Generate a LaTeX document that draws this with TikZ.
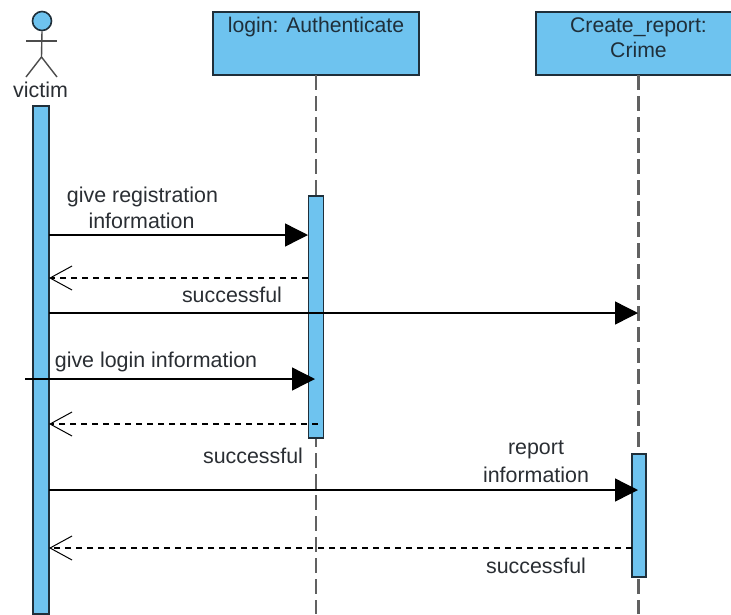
\documentclass[tikz,border=0pt]{standalone}
\usepackage{fontspec}
\setmainfont{Liberation Sans}
\usetikzlibrary{arrows.meta}
\definecolor{lifeblue}{HTML}{6EC3EF}
\definecolor{edgeblue}{HTML}{1F2F3A}
\definecolor{inktext}{HTML}{2A2E33}
\tikzset{
  x=1pt,y=-1pt,
  headbox/.style={draw=edgeblue,fill=lifeblue,line width=1.5pt,anchor=north west,inner sep=0pt,outer sep=0pt},
  activation/.style={draw=edgeblue,fill=lifeblue,line width=1.8pt,anchor=north west,inner sep=0pt,outer sep=0pt,minimum width=15pt},
  lifeline/.style={draw=black!62,line width=2.5pt,dash pattern=on 15pt off 6pt},
  callmsg/.style={draw=black,line width=1.4pt,-{Triangle[length=23pt,width=23pt]}},
  returnmsg/.style={draw=black,line width=1.2pt,dash pattern=on 6pt off 5pt,-{Straight Barb[length=22pt,width=24pt,line width=1pt]}},
  actorline/.style={draw=black!70,line width=1.4pt},
  msglabel/.style={font=\fontsize{21.4}{25}\selectfont,text=inktext,inner sep=0pt},
  titletext/.style={font=\fontsize{21.2}{25}\selectfont,text=edgeblue,inner sep=0pt}
}
\begin{document}
\begin{tikzpicture}
\path[use as bounding box] (0,0) rectangle (731,614);
\clip (0,0) rectangle (731,614);
\fill[white] (0,0) rectangle (731,614);
% head boxes
\node[headbox,minimum width=206pt,minimum height=63pt] (login) at (213,12) {};
\node[headbox,minimum width=205pt,minimum height=63pt] (report) at (536,12) {};
\node[titletext] (logintitle) at (316,27) {login: Authenticate};
\node[titletext] (reporttitle) at (638.5,27) {Create\_report:};
\node[titletext] (crimetitle) at (638.5,50) {Crime};
% lifeline ends
\coordinate (loginend) at (316,614);
\coordinate (reportend) at (638.5,614);
\draw[lifeline] (login.south) -- (loginend);
\draw[lifeline] (report.south-|reportend) -- (reportend);
% actor
\node[circle,draw=edgeblue,fill=lifeblue,line width=1.6pt,minimum size=19pt,inner sep=0pt] (head) at (42,21) {};
\coordinate (hip) at (41.5,57);
\coordinate (armL) at (26,41);
\coordinate (armR) at (57,41);
\coordinate (legL) at (26,77);
\coordinate (legR) at (57,77);
\draw[actorline] (head.south) -- (hip);
\draw[actorline] (armL) -- (armR);
\draw[actorline] (legL) -- (hip) -- (legR);
\node[msglabel] (victim) at (40.5,90) {victim};
% activations
\node[activation,minimum width=16pt,minimum height=508pt] (av) at (33,106) {};
\node[activation,minimum height=242pt] (al) at (308.5,196) {};
\node[activation,minimum width=14pt,minimum height=123pt] (ar) at (632,454) {};
% message end points
\coordinate (m1a) at (49,235);   \coordinate (m1b) at (308,235);
\coordinate (m2a) at (308,278);  \coordinate (m2b) at (49,278);
\coordinate (m3a) at (49,313);   \coordinate (m3b) at (638,313);
\coordinate (m4a) at (25,379);   \coordinate (m4b) at (315,379);
\coordinate (m5a) at (318,424);  \coordinate (m5b) at (49,424);
\coordinate (m6a) at (49,490);   \coordinate (m6b) at (638,490);
\coordinate (m7a) at (632,548);  \coordinate (m7b) at (49,548);
\draw[callmsg] (m1a) -- (m1b);
\draw[returnmsg] (m2a) -- (m2b);
\draw[callmsg] (m3a) -- (m3b);
\draw[callmsg] (m4a) -- (m4b);
\draw[returnmsg] (m5a) -- (m5b);
\draw[callmsg] (m6a) -- (m6b);
\draw[returnmsg] (m7a) -- (m7b);
% labels
\node[msglabel] (l1) at (142.5,197) {give registration};
\node[msglabel] (l1b) at (141.5,221) {information};
\node[msglabel] (l2) at (232,295) {successful};
\node[msglabel] (l3) at (156,362) {give login information};
\node[msglabel] (l4) at (253,456) {successful};
\node[msglabel] (l5) at (536,450) {report};
\node[msglabel] (l5b) at (536,475) {information};
\node[msglabel] (l6) at (536,566) {successful};
\end{tikzpicture}
\end{document}
